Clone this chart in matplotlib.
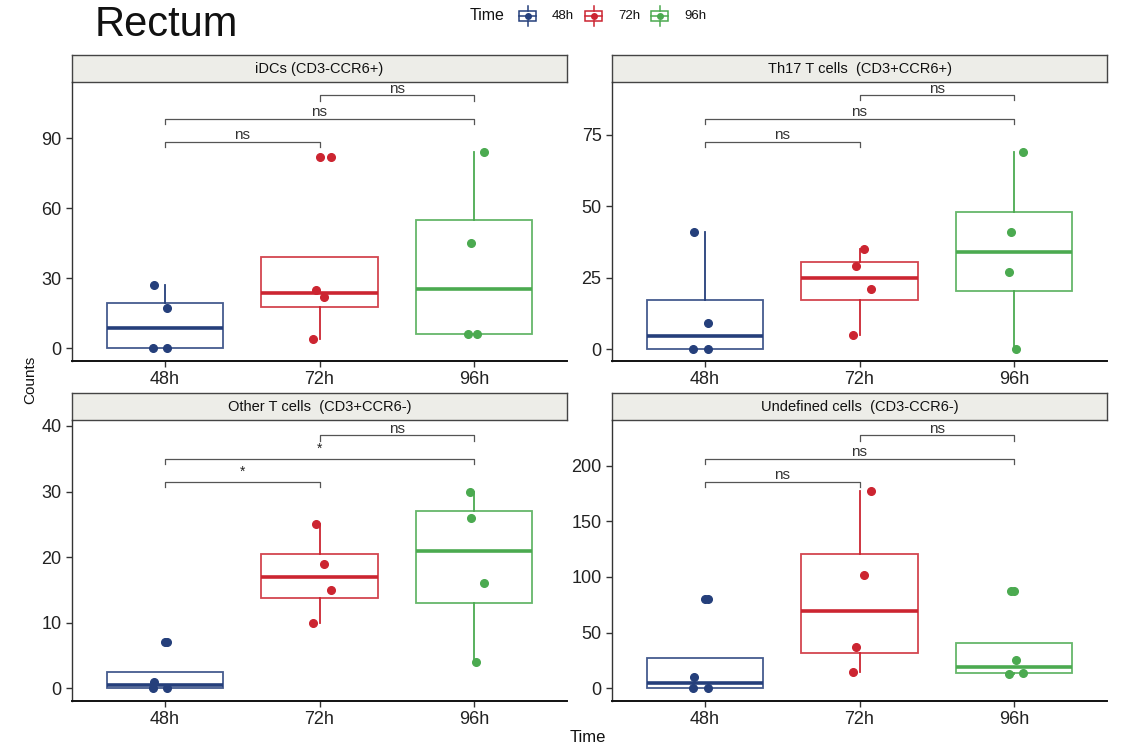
import matplotlib
matplotlib.use("Agg")
import matplotlib.pyplot as plt
from matplotlib.patches import Rectangle
from matplotlib.lines import Line2D

plt.rcParams['font.family'] = ['Liberation Sans', 'DejaVu Sans']

# ---------------- data ----------------
times = ["48h", "72h", "96h"]
colors = ["#253F7B", "#CC2531", "#4BAA50"]

panel_titles = ["iDCs (CD3-CCR6+)", "Th17 T cells  (CD3+CCR6+)",
                "Other T cells  (CD3+CCR6-)", "Undefined cells  (CD3-CCR6-)"]

idc_48 = [27, 17, 0, 0]
idc_72 = [82, 25, 22, 4]
idc_96 = [84, 45, 6, 6]

th17_48 = [41, 9, 0, 0]
th17_72 = [35, 29, 21, 5]
th17_96 = [69, 41, 27, 0]

other_48 = [7, 1, 0, 0]
other_72 = [25, 19, 15, 10]
other_96 = [30, 26, 16, 4]

undef_48 = [80, 10, 0, 0]
undef_72 = [177, 102, 37, 15]
undef_96 = [87, 25, 14, 13]

panel_data = [
    [idc_48, idc_72, idc_96],
    [th17_48, th17_72, th17_96],
    [other_48, other_72, other_96],
    [undef_48, undef_72, undef_96],
]

# jitter offsets of the points (same order as the values above)
jitter = [
    [[-0.07, 0.016, -0.078, 0.016], [0.073, -0.02, 0.03, -0.04], [0.064, -0.02, -0.04, 0.016]],
    [[-0.07, 0.02, -0.075, 0.02], [0.03, -0.02, 0.074, -0.044], [0.057, -0.018, -0.034, 0.014]],
    [[0.016, -0.073, -0.078, 0.016], [-0.02, 0.03, 0.073, -0.04], [-0.03, -0.02, 0.064, 0.01]],
    [[0.02, -0.07, -0.075, 0.02], [0.074, 0.03, -0.02, -0.044], [-0.018, 0.014, 0.057, -0.034]],
]

yticks = [[0, 30, 60, 90], [0, 25, 50, 75], [0, 10, 20, 30, 40], [0, 50, 100, 150, 200]]
ylims = [(-5.5, 114), (-4.2, 93.5), (-1.93, 40.9), (-11.4, 241)]

# significance brackets: (group a, group b)
bracket_pairs = [(1, 2), (1, 3), (2, 3)]
bracket_y = [[88.5, 98.3, 108.4], [72.6, 80.7, 89.0], [31.5, 35.0, 38.6], [185.6, 206.3, 227.6]]
bracket_labels = [["ns", "ns", "ns"], ["ns", "ns", "ns"], ["*", "*", "ns"], ["ns", "ns", "ns"]]

# ---------------- figure ----------------
W, H = 1125, 750
fig = plt.figure(figsize=(W / 100, H / 100), dpi=100)


def fx(px):
    return px / W


def fy(py):
    return 1 - py / H


panel_px = [  # left, right, top, bottom in pixels
    (72, 567, 82, 361),
    (612, 1107, 82, 361),
    (72, 567, 420, 701),
    (612, 1107, 420, 701),
]
strip_h = 27

for i, (l, r, t, b) in enumerate(panel_px):
    # strip first (below the panel in z-order)
    sax = fig.add_axes([fx(l), fy(t), fx(r - l), strip_h / H], zorder=1)
    sax.set_xticks([])
    sax.set_yticks([])
    sax.set_facecolor("#EDEDE8")
    for s in sax.spines.values():
        s.set_color("#444444")
        s.set_linewidth(1.0)
    sax.text(0.5, 0.5, panel_titles[i], ha="center", va="center", fontsize=10.5,
             color="#111111", transform=sax.transAxes)

    ax = fig.add_axes([fx(l), fy(b), fx(r - l), (b - t) / H], zorder=2)
    ax.patch.set_alpha(0)
    data = panel_data[i]
    ax.set_xlim(0.4, 3.6)
    ax.set_ylim(*ylims[i])
    for g in range(3):
        c = colors[g]
        ax.boxplot([data[g]], positions=[g + 1], widths=0.75, whis=1.5,
                   patch_artist=True, showcaps=False,
                   boxprops=dict(facecolor="white", edgecolor=c, linewidth=1.3, alpha=0.85),
                   whiskerprops=dict(color=c, linewidth=1.3),
                   medianprops=dict(color=c, linewidth=2.6),
                   flierprops=dict(marker="o", markerfacecolor=c, markeredgecolor=c,
                                   markersize=5.5))
        for v, dx in zip(data[g], jitter[i][g]):
            ax.plot(g + 1 + dx, v, "o", color=c, markersize=5.5, zorder=4)
    # brackets
    yr = ylims[i][1] - ylims[i][0]
    tip = 0.02 * yr
    for (a, bb), yv, lab in zip(bracket_pairs, bracket_y[i], bracket_labels[i]):
        ax.plot([a, a, bb, bb], [yv - tip, yv, yv, yv - tip], color="#555555", lw=0.9,
                clip_on=False)
        if lab == "*":
            ax.text((a + bb) / 2, yv + 0.035 * yr, lab, ha="center", va="center",
                    fontsize=10, color="#222222", clip_on=False)
        else:
            ax.text((a + bb) / 2, yv + 0.008 * yr, lab, ha="center", va="baseline",
                    fontsize=11, color="#333333", clip_on=False)
    ax.set_xticks([1, 2, 3])
    ax.set_xticklabels(times)
    ax.set_yticks(yticks[i])
    ax.tick_params(axis="both", labelsize=13, length=4, width=1, color="#333333",
                   labelcolor="#222222")
    for s in ["top", "right"]:
        ax.spines[s].set_visible(False)
    ax.spines["left"].set_color("#333333")
    ax.spines["bottom"].set_color("#111111")
    ax.spines["left"].set_linewidth(1.0)
    ax.spines["bottom"].set_linewidth(1.4)

# titles / labels
fig.text(fx(95), fy(25), "Rectum", fontsize=30, ha="left", va="center", color="#111111")
fig.text(fx(30), fy(380), "Counts", fontsize=11, rotation=90, ha="center", va="center",
         color="#111111")
fig.text(fx(588), fy(737), "Time", fontsize=12, ha="center", va="center", color="#111111")

# legend
fig.text(fx(470), fy(16), "Time", fontsize=11.5, ha="left", va="center", color="#111111")
key_x = [519, 585, 651]
kw = 17
for g in range(3):
    c = colors[g]
    kx = key_x[g]
    fig.add_artist(Rectangle((fx(kx), fy(21)), fx(kw), 10 / H, facecolor="white",
                             edgecolor=c, linewidth=1.1, transform=fig.transFigure))
    fig.add_artist(Line2D([fx(kx), fx(kx + kw)], [fy(16), fy(16)], color=c, lw=1.1,
                          transform=fig.transFigure))
    fig.add_artist(Line2D([fx(kx + kw / 2), fx(kx + kw / 2)], [fy(6), fy(11)], color=c, lw=1.1,
                          transform=fig.transFigure))
    fig.add_artist(Line2D([fx(kx + kw / 2), fx(kx + kw / 2)], [fy(21), fy(26)], color=c, lw=1.1,
                          transform=fig.transFigure))
    fig.add_artist(Line2D([fx(kx + kw / 2)], [fy(16)], marker="o", markersize=4, color=c,
                          transform=fig.transFigure))
    fig.text(fx(kx + 33), fy(16), times[g], fontsize=9.5, ha="left", va="center",
             color="#111111")

fig.savefig("out.png", dpi=100)
